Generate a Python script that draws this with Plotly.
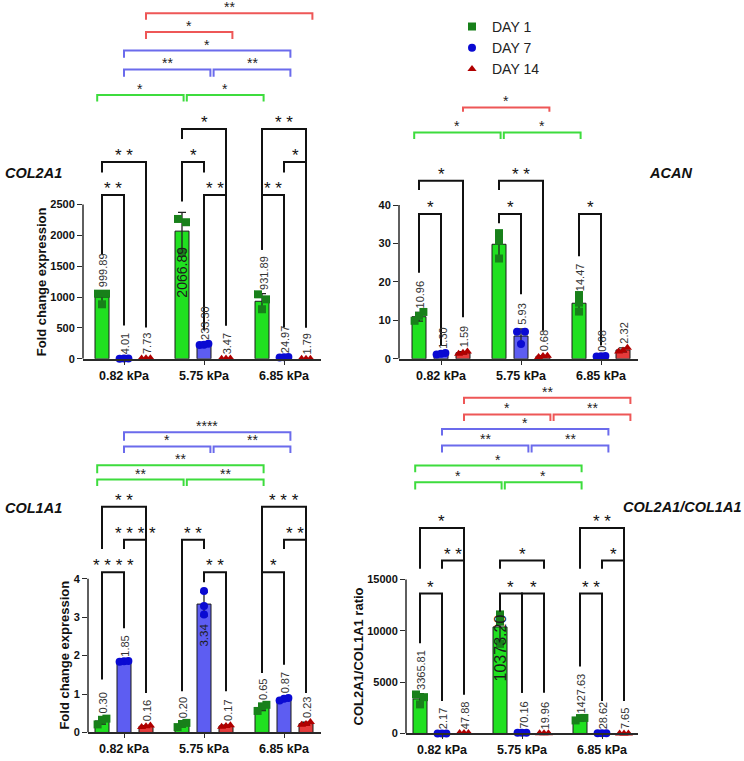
import numpy as np
import plotly.graph_objects as go

W, H = 744, 761
FONT = "Liberation Sans, Arial, sans-serif"

# ------------------------------------------------------------------ data
groups = ["0.82 kPa", "5.75 kPa", "6.85 kPa"]
days = ["DAY 1", "DAY 7", "DAY 14"]

# bar heights (mean) [group][day] and replicate points [group][day][rep]
col2a1_mean = [[999.89, 4.01, 7.73], [2066.89, 233.30, 3.47], [931.89, 24.97, 1.79]]
col2a1_pts = [
    [[1055, 1055, 883], [3.2, 4.6, 4.2], [6.5, 8.5, 8.2]],
    [[2264, 2211, 1713], [245, 225, 230], [2.9, 3.8, 3.7]],
    [[1044, 963, 803], [20, 27, 28], [1.5, 2.0, 1.9]],
]
acan_mean = [[10.96, 1.30, 1.59], [29.80, 5.93, 0.68], [14.47, 0.68, 2.32]]
acan_pts = [
    [[12.2, 11.2, 9.9], [1.1, 1.5, 1.3], [1.3, 1.9, 1.6]],
    [[32.7, 30.7, 26.1], [7.07, 7.07, 3.87], [0.5, 0.8, 0.75]],
    [[16.6, 14.6, 12.3], [0.6, 0.7, 0.75], [2.9, 1.9, 2.15]],
]
acan_labeled = [[True, True, True], [False, True, True], [True, True, True]]
col1a1_mean = [[0.30, 1.85, 0.16], [0.20, 3.34, 0.17], [0.65, 0.87, 0.23]]
col1a1_pts = [
    [[0.36, 0.33, 0.21], [1.85, 1.86, 1.84], [0.14, 0.18, 0.16]],
    [[0.25, 0.22, 0.14], [3.68, 3.29, 3.07], [0.19, 0.17, 0.15]],
    [[0.72, 0.68, 0.56], [0.90, 0.88, 0.83], [0.27, 0.22, 0.20]],
]
ratio_mean = [[3365.81, 2.17, 47.88], [10373.20, 70.16, 19.96], [1427.63, 28.62, 7.65]]
ratio_pts = [
    [[3796, 3535, 2830], [1.9, 2.5, 2.1], [45, 52, 47]],
    [[11590, 10876, 8722], [65, 80, 66], [18, 22, 20]],
    [[1270, 1500, 1513], [25, 32, 29], [7.0, 8.3, 7.6]],
]

col2a1_ticks = [0, 500, 1000, 1500, 2000, 2500]
acan_ticks = [0, 10, 20, 30, 40]
col1a1_ticks = [0, 1, 2, 3, 4]
ratio_ticks = [0, 5000, 10000, 15000]

# within-group comparisons: (group, day_a, day_b, stars, bar level, leg end a, leg end b)
col2a1_within = [
    (0, 0, 1, "**", 2650, 1697, 541), (0, 0, 2, "**", 3186, 3014, 509),
    (1, 0, 1, "*", 3186, 2548, 3014), (1, 0, 2, "*", 3720, 3559, 541),
    (1, 1, 2, "**", 2650, 461, 541),
    (2, 0, 2, "**", 3720, 1766, 509), (2, 1, 2, "*", 3186, 3014, 509),
    (2, 0, 1, "**", 2650, 1766, 509),
]
acan_within = [
    (0, 0, 1, "*", 37.7, 22.4, 3.5), (0, 0, 2, "*", 46.3, 43.9, 10.8),
    (1, 0, 1, "*", 37.7, 35.3, 16.8), (1, 0, 2, "**", 46.3, 43.9, 7.3),
    (2, 0, 1, "*", 37.7, 26.7, 3.5),
]
col1a1_within = [
    (0, 0, 1, "****", 4.17, 1.375, 2.71), (0, 1, 2, "****", 5.01, 4.77, 1.03),
    (0, 0, 2, "**", 5.87, 4.77, 1.03),
    (1, 0, 1, "**", 5.01, 1.07, 4.77), (1, 1, 2, "**", 4.17, 3.91, 1.07),
    (2, 0, 2, "***", 5.87, 1.55, 1.03), (2, 1, 2, "**", 5.01, 4.77, 1.03),
    (2, 0, 1, "*", 4.17, 1.55, 1.76),
]
ratio_within = [
    (0, 0, 2, "*", 19994, 16034, 3796), (0, 1, 2, "**", 16836, 16034, 3796),
    (0, 0, 1, "*", 13619, 8790, 3149),
    (1, 0, 2, "*", 16836, 16034, 16034), (1, 0, 1, "*", 13619, 11842, 3960),
    (1, 1, 2, "*", 13619, 3960, 3960),
    (2, 0, 2, "**", 19994, 16034, 3149), (2, 1, 2, "*", 16836, 16034, 3149),
    (2, 0, 1, "**", 13619, 6530, 3149),
]
# between-group comparisons for one day: (day, group_a, group_b, stars, bar level, leg end)
col2a1_between = [
    (0, 0, 1, "*", 4271, 4165), (0, 1, 2, "*", 4271, 4165),
    (1, 0, 1, "**", 4684, 4566), (1, 1, 2, "**", 4684, 4566), (1, 0, 2, "*", 4989, 4872),
    (2, 0, 1, "*", 5289, 5177), (2, 0, 2, "**", 5594, 5487),
]
acan_between = [
    (0, 0, 1, "*", 58.9, 57.2), (0, 1, 2, "*", 58.9, 57.2),
    (2, 0, 1, "*", 65.4, 64.3),
]
col1a1_between = [
    (1, 0, 2, "****", 7.81, 7.59), (1, 0, 1, "*", 7.44, 7.27), (1, 1, 2, "**", 7.44, 7.27),
    (0, 0, 2, "**", 6.95, 6.74), (0, 0, 1, "**", 6.58, 6.41), (0, 1, 2, "**", 6.58, 6.41),
]
ratio_between = [
    (2, 0, 2, "**", 32677, 32068), (2, 0, 1, "*", 31064, 30426), (2, 1, 2, "**", 31064, 30426),
    (1, 0, 2, "*", 29653, 29006), (1, 0, 1, "**", 28040, 27364), (1, 1, 2, "**", 28040, 27364),
    (0, 0, 2, "*", 26080, 25432), (0, 0, 1, "*", 24467, 23762), (0, 1, 2, "*", 24467, 23762),
]

# ------------------------------------------------------------------ style
bar_fill = ["#20e020", "#5d5df2", "#e53b3b"]
mark_col = ["#18801a", "#0a0ad2", "#b00000"]
mark_sym = ["square", "circle", "triangle-up"]
brk_col = ["#3ddc3d", "#6b6bec", "#ee5757"]
day_off = [-0.275, 0.0, 0.275]
BAR_W = 0.175
AX_COL = "#2a2a2a"

panels = [
    dict(mean=col2a1_mean, pts=col2a1_pts, labeled=None, ticks=col2a1_ticks,
         within=col2a1_within, between=col2a1_between, title="COL2A1",
         ytitle="Fold change expression",
         geo=dict(xl=83, xr=321, c0=124, yz=361.7, yt=206, ytop=0),
         tpos=(3, 174), ytx=41.7),
    dict(mean=acan_mean, pts=acan_pts, labeled=acan_labeled, ticks=acan_ticks,
         within=acan_within, between=acan_between, title="ACAN", ytitle=None,
         geo=dict(xl=399, xr=638, c0=441, yz=361.7, yt=206.7, ytop=90),
         tpos=(647, 174), ytx=None),
    dict(mean=col1a1_mean, pts=col1a1_pts, labeled=None, ticks=col1a1_ticks,
         within=col1a1_within, between=col1a1_between, title="COL1A1",
         ytitle="Fold change expression",
         geo=dict(xl=88, xr=321, c0=124, yz=738.3, yt=583.3, ytop=420),
         tpos=(3, 511.7), ytx=65),
    dict(mean=ratio_mean, pts=ratio_pts, labeled=None, ticks=ratio_ticks,
         within=ratio_within, between=ratio_between, title="COL2A1/COL1A1",
         ytitle="COL2A1/COL1A1 ratio",
         geo=dict(xl=406, xr=638, c0=442, yz=739.3, yt=584, ytop=385),
         tpos=(621, 511), ytx=358),
]
# labels drawn inside the bar: (panel, group, day) -> (yshift px from mean, font size)
inside_labels = {(0, 1, 0): (-14, 14), (2, 1, 1): (-18, 11.5), (3, 1, 0): (15, 16)}

fig = go.Figure()
shapes, annotations = [], []
layout_axes = {}

for k, p in enumerate(panels):
    sfx = "" if k == 0 else str(k + 1)
    xn, yn = "x" + sfx, "y" + sfx
    g = p["geo"]
    x0 = -(g["c0"] - g["xl"]) / 80.0
    x1 = x0 + (g["xr"] - g["xl"]) / 80.0
    tickmax = p["ticks"][-1]
    ppv = (g["yz"] - g["yt"]) / tickmax          # pixels per value unit
    ytop = (g["yz"] - g["ytop"]) / ppv
    mean = np.array(p["mean"], dtype=float)
    pts = np.array(p["pts"], dtype=float)
    sd = pts.std(axis=2, ddof=1)

    layout_axes["xaxis" + sfx] = dict(
        domain=[g["xl"] / W, g["xr"] / W], range=[x0, x1], anchor=yn,
        showline=True, linecolor=AX_COL, linewidth=1.5, ticks="outside", ticklen=4,
        tickwidth=1.3, tickcolor=AX_COL, tickvals=[0, 1, 2], ticktext=groups,
        tickfont=dict(family=FONT, size=12.5, color="#111", weight="bold"),
        showgrid=False, zeroline=False, fixedrange=True)
    layout_axes["yaxis" + sfx] = dict(
        domain=[1 - g["yz"] / H, 1 - g["ytop"] / H], range=[0, ytop], anchor=xn,
        showline=False, ticks="outside", ticklen=5, tickwidth=1.3, tickcolor=AX_COL,
        tickvals=p["ticks"], ticktext=[str(t) for t in p["ticks"]],
        tickfont=dict(family=FONT, size=11, color="#111", weight="bold"),
        showgrid=False, zeroline=False, fixedrange=True)
    # visible y axis line only from 0 to the top tick
    shapes.append(dict(type="line", xref="paper", yref=yn, x0=g["xl"] / W, x1=g["xl"] / W,
                       y0=0, y1=tickmax, line=dict(color=AX_COL, width=1.5)))

    for d in range(3):
        xs = [gi + day_off[d] for gi in range(3)]
        fig.add_trace(go.Bar(
            x=xs, y=mean[:, d], width=BAR_W, xaxis=xn, yaxis=yn, showlegend=False,
            marker=dict(color=bar_fill[d], line=dict(color="#1a1a1a", width=1)),
            error_y=dict(type="data", array=sd[:, d], color="#222", thickness=1.3, width=4),
            hoverinfo="skip"))
        # replicate points, spread sideways only where they overlap
        px_, py_ = [], []
        for gi in range(3):
            vals = pts[gi, d]
            ypx = vals * ppv
            off = np.zeros(3)
            close = [(a, b) for a in range(3) for b in range(a + 1, 3) if abs(ypx[a] - ypx[b]) < 7]
            if len(close) >= 2:
                order = np.argsort(vals)
                off[order] = [-0.055, 0.0, 0.055]
            elif len(close) == 1:
                a, b = close[0]
                off[a], off[b] = -0.05, 0.05
            for r in range(3):
                px_.append(gi + day_off[d] + off[r])
                py_.append(vals[r])
        fig.add_trace(go.Scatter(
            x=px_, y=py_, mode="markers", xaxis=xn, yaxis=yn, cliponaxis=False,
            name=days[d], showlegend=(k == 0), legendgroup=days[d],
            marker=dict(symbol=mark_sym[d], size=8, color=mark_col[d], line=dict(width=0)),
            hoverinfo="skip"))

        # value labels
        for gi in range(3):
            if p["labeled"] is not None and not p["labeled"][gi][d]:
                continue
            txt = f"{mean[gi, d]:.2f}"
            key = (k, gi, d)
            if key in inside_labels:
                ysh, fs = inside_labels[key]
                annotations.append(dict(
                    x=gi + day_off[d], y=mean[gi, d], xref=xn, yref=yn, text=txt,
                    textangle=-90, showarrow=False, xanchor="center", yanchor="top",
                    yshift=ysh, font=dict(family=FONT, size=fs, color="#1c1c1c")))
            else:
                annotations.append(dict(
                    x=gi + day_off[d] + 0.015, y=mean[gi, d] + sd[gi, d], xref=xn, yref=yn,
                    text=txt, textangle=-90, showarrow=False, xanchor="center",
                    yanchor="bottom", yshift=2,
                    font=dict(family=FONT, size=11, color="#333")))

    # within-group brackets (black)
    for gi, da, db, stars, h, ea, eb in p["within"]:
        xa, xb = gi + day_off[da], gi + day_off[db]
        shapes.append(dict(type="path", xref=xn, yref=yn,
                           path=f"M {xa},{ea} L {xa},{h} L {xb},{h} L {xb},{eb}",
                           line=dict(color="#111", width=2)))
        annotations.append(dict(x=(xa + xb) / 2, y=h, xref=xn, yref=yn, text=" ".join(stars),
                                showarrow=False, xanchor="center", yanchor="bottom", yshift=-5,
                                font=dict(family=FONT, size=17, color="#111")))
    # between-group brackets (coloured per day)
    for d, ga, gb, stars, h, e in p["between"]:
        sh = -0.06 if d == 0 else 0.0
        xa = ga + day_off[d] + (0.12 if ga > 0 else 0.0) + sh
        xb = gb + day_off[d] + 0.08 + sh
        shapes.append(dict(type="path", xref=xn, yref=yn,
                           path=f"M {xa},{e} L {xa},{h} L {xb},{h} L {xb},{e}",
                           line=dict(color=brk_col[d], width=2)))
        annotations.append(dict(x=(xa + xb) / 2, y=h, xref=xn, yref=yn, text=stars,
                                showarrow=False, xanchor="center", yanchor="bottom", yshift=-4,
                                font=dict(family=FONT, size=14, color="#222")))

    # gene title
    annotations.append(dict(x=p["tpos"][0] / W, y=1 - p["tpos"][1] / H, xref="paper", yref="paper",
                            text=f"<b><i>{p['title']}</i></b>", showarrow=False,
                            xanchor="left", yanchor="middle",
                            font=dict(family=FONT, size=14.5, color="#111")))
    if p["ytitle"]:
        annotations.append(dict(x=p["ytx"] / W, y=tickmax / 2, xref="paper", yref=yn,
                                text=f"<b>{p['ytitle']}</b>", textangle=-90, showarrow=False,
                                xanchor="center", yanchor="middle",
                                font=dict(family=FONT, size=13, color="#111")))

fig.update_layout(
    width=W, height=H, margin=dict(l=0, r=0, t=0, b=0, pad=0),
    paper_bgcolor="white", plot_bgcolor="rgba(0,0,0,0)",
    barmode="overlay", shapes=shapes, annotations=annotations,
    showlegend=True,
    legend=dict(x=452 / W, y=1 - 11 / H, xanchor="left", yanchor="top",
                font=dict(family=FONT, size=14, color="#222"), bgcolor="rgba(0,0,0,0)",
                tracegroupgap=0, itemwidth=30),
    font=dict(family=FONT),
    **layout_axes,
)

fig.write_html("out.html", config={"displayModeBar": False},
               post_script="document.body.style.margin='0px';document.body.style.padding='0px';")
